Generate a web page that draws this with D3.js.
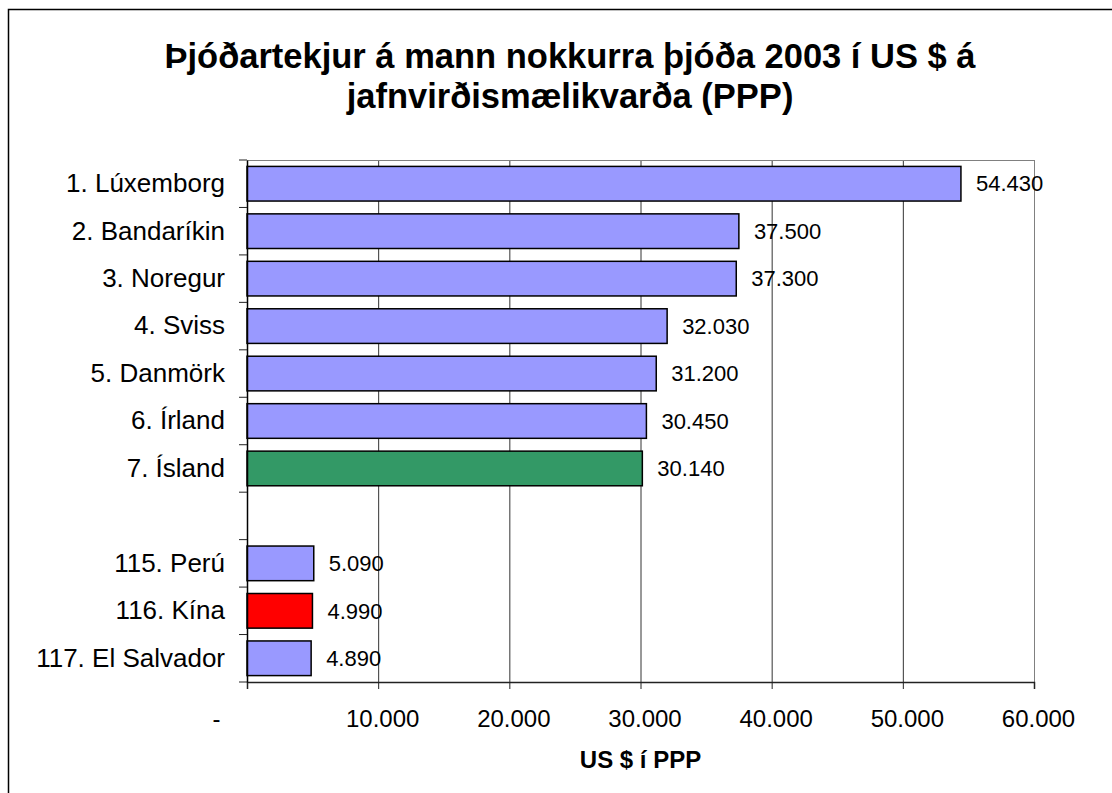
<!DOCTYPE html>
<html>
<head>
<meta charset="utf-8">
<script src="https://cdn.jsdelivr.net/npm/d3@7"></script>
<style>
  body { margin: 0; background: #fff; }
  svg { display: block; font-family: Arial, "Liberation Sans", sans-serif; }
</style>
</head>
<body>
<div id="container"></div>
<script>
// data
const categories = ['1. Lúxemborg', '2. Bandaríkin', '3. Noregur', '4. Sviss', '5. Danmörk', '6. Írland', '7. Ísland', ' ', '115. Perú', '116. Kína', '117. El Salvador']
const values = [54430, 37500, 37300, 32030, 31200, 30450, 30140, null, 5090, 4990, 4890]
const barColors = ['#9999ff', '#9999ff', '#9999ff', '#9999ff', '#9999ff', '#9999ff', '#339966', null, '#9999ff', '#ff0000', '#9999ff']
const xTicks = [0, 10000, 20000, 30000, 40000, 50000, 60000]
const titleLines = ['Þjóðartekjur á mann nokkurra þjóða 2003 í US $ á', 'jafnvirðismælikvarða (PPP)']
const xTitle = 'US $ í PPP'

const width = 1112
const height = 793
const margin = { top: 160, right: 78, bottom: 111, left: 247 }

const is = d3.formatLocale({ decimal: ',', thousands: '.', grouping: [3], currency: ['', '$'] })
const fmt = is.format(',d')

const rows = categories.map((c, i) => ({ name: c, value: values[i], color: barColors[i] }))

const svg = d3.select('#container')
  .append('svg')
  .attr('width', width)
  .attr('height', height)

// chart frame (runs off the picture on the right and bottom)
svg.append('rect')
  .attr('x', 8.5).attr('y', 9.5)
  .attr('width', width + 50).attr('height', height + 50)
  .attr('fill', 'none')
  .attr('stroke', '#000')
  .attr('stroke-width', 1.5)

const x = d3.scaleLinear()
  .domain([0, 60000])
  .range([margin.left, width - margin.right])

const y = d3.scaleBand()
  .domain(categories)
  .range([margin.top, height - margin.bottom])
  .paddingInner(0.27)
  .paddingOuter(0.135)

const gap = (y.step() - y.bandwidth()) / 2

// title
svg.append('text')
  .attr('x', 570)
  .attr('y', 68)
  .attr('text-anchor', 'middle')
  .style('font-size', '34.5px')
  .style('font-weight', 'bold')
  .selectAll('tspan')
  .data(titleLines)
  .enter().append('tspan')
  .attr('x', 570)
  .attr('dy', (d, i) => i == 0 ? 0 : 40)
  .text(d => d)

// gridlines
svg.append('g')
  .selectAll('line')
  .data(xTicks.slice(1))
  .enter().append('line')
  .attr('x1', d => x(d) + 0.5).attr('x2', d => x(d) + 0.5)
  .attr('y1', margin.top).attr('y2', height - margin.bottom)
  .attr('stroke', d => d == 60000 ? '#808080' : '#333')
  .attr('stroke-width', 1)

// plot area top border
svg.append('line')
  .attr('x1', x(0)).attr('x2', x(60000) + 1)
  .attr('y1', margin.top + 0.5).attr('y2', margin.top + 0.5)
  .attr('stroke', '#808080')

// bars
svg.append('g')
  .selectAll('rect')
  .data(rows.filter(d => d.value != null))
  .enter().append('rect')
  .attr('x', x(0))
  .attr('y', d => y(d.name))
  .attr('width', d => x(d.value) - x(0))
  .attr('height', y.bandwidth())
  .attr('fill', d => d.color)
  .attr('stroke', '#000')
  .attr('stroke-width', 1.5)

// value labels
svg.append('g')
  .selectAll('text')
  .data(rows.filter(d => d.value != null))
  .enter().append('text')
  .attr('x', d => x(d.value) + 15)
  .attr('y', d => y(d.name) + y.bandwidth() / 2)
  .attr('dy', '0.35em')
  .style('font-size', '22px')
  .text(d => fmt(d.value))

// x axis
const xAxis = svg.append('g')
  .attr('transform', `translate(0, ${height - margin.bottom})`)
  .call(d3.axisBottom(x)
    .tickValues(xTicks)
    .tickSize(7)
    .tickPadding(21)
    .tickFormat(d => d == 0 ? '-' : fmt(d)))
xAxis.select('.domain').attr('stroke', '#222').attr('stroke-width', 1.5)
xAxis.selectAll('.tick line').attr('stroke', '#222')
xAxis.selectAll('.tick text')
  .attr('dx', d => d == 0 ? -31 : 4)
  .style('font-size', '24px')
  .style('font-family', 'Arial, "Liberation Sans", sans-serif')
  .attr('fill', '#000')

// y axis: labels plus tick marks on the band edges
const yAxis = svg.append('g')
  .attr('transform', `translate(${margin.left}, 0)`)
  .call(d3.axisLeft(y).tickSize(0).tickPadding(22))
yAxis.select('.domain').attr('stroke', '#000').attr('stroke-width', 1.5)
yAxis.selectAll('.tick text')
  .style('font-size', '26px')
  .style('font-family', 'Arial, "Liberation Sans", sans-serif')
  .attr('fill', '#000')

const edges = categories.map(c => y(c) - gap).concat([y(categories[categories.length - 1]) + y.bandwidth() + gap])
yAxis.append('g')
  .selectAll('line')
  .data(edges)
  .enter().append('line')
  .attr('x1', -8).attr('x2', 0)
  .attr('y1', d => d).attr('y2', d => d)
  .attr('stroke', '#222')

// axis title
svg.append('text')
  .attr('x', (x(0) + x(60000)) / 2)
  .attr('y', 768)
  .attr('text-anchor', 'middle')
  .style('font-size', '24px')
  .style('font-weight', 'bold')
  .text(xTitle)
</script>
</body>
</html>
